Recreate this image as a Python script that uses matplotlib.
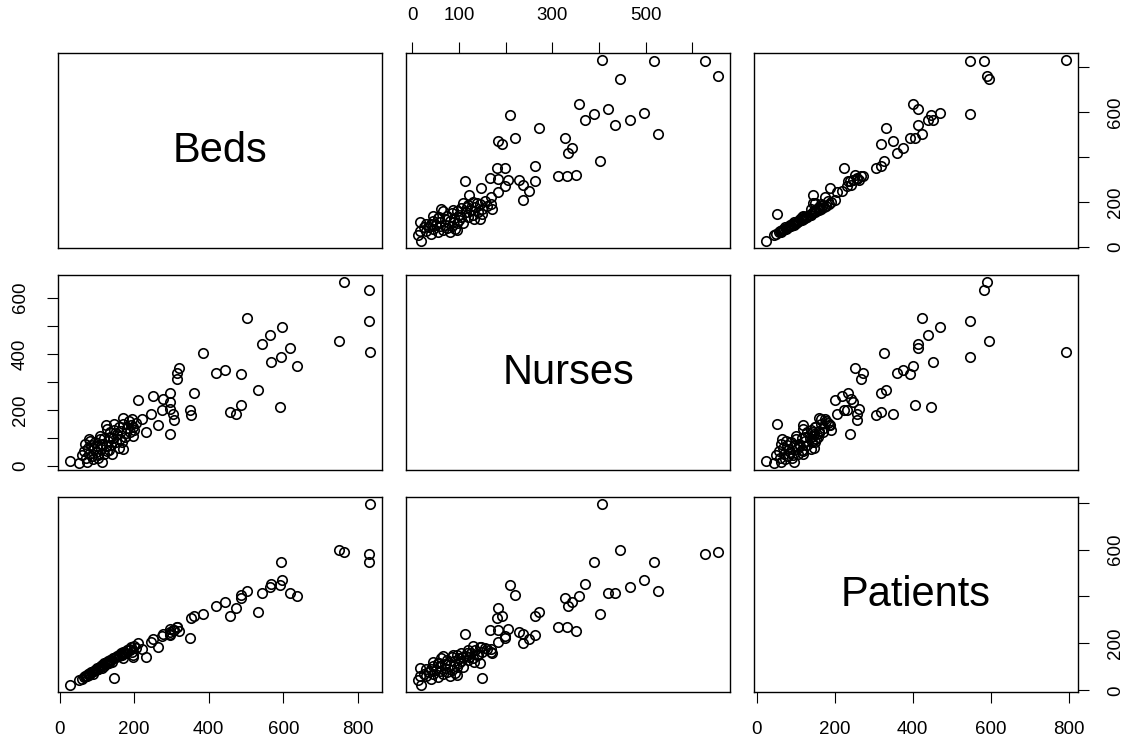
import numpy as np
import matplotlib
matplotlib.use('Agg')
import matplotlib.pyplot as plt

plt.rcParams['font.family'] = ['Liberation Sans', 'DejaVu Sans']

# valores (Beds, Nurses, Patients)
beds = [763, 828, 830, 832, 749, 503, 597, 564, 567, 543, 617, 593, 636, 590,
        384, 420, 443, 486, 531, 485, 474, 458, 360, 353, 350, 316, 315, 320,
        295, 297, 297, 304, 308, 296, 277, 250, 209, 274, 265, 233, 245, 222,
        193, 169, 147, 127, 197, 178, 197, 167, 171, 136, 109, 82, 132, 113,
        28, 53, 73, 60, 65, 70, 75, 80, 85, 88, 92, 95, 98, 100, 104, 108,
        110, 115, 118, 120, 124, 128, 130, 135, 138, 142, 145, 150, 155, 158,
        162, 165, 170, 175, 180, 185, 188, 192, 200, 205, 90, 68, 78, 102,
        125, 160, 140]
nurses = [655, 627, 518, 406, 445, 527, 496, 467, 370, 434, 419, 390, 358, 209,
          403, 333, 343, 327, 271, 219, 184, 193, 262, 181, 199, 312, 332, 350,
          262, 229, 205, 184, 166, 113, 238, 250, 237, 199, 147, 121, 184, 169,
          169, 171, 150, 133, 139, 118, 109, 86, 62, 104, 109, 91, 56, 16,
          19, 12, 16, 40, 55, 30, 65, 45, 75, 35, 60, 85, 50, 70, 40, 95,
          60, 80, 45, 100, 70, 55, 90, 120, 75, 100, 130, 85, 115, 140,
          95, 125, 150, 105, 135, 160, 120, 145, 130, 155, 25, 80, 95, 30,
          145, 65, 45]
patients = [591, 582, 548, 793, 596, 425, 470, 440, 452, 414, 414, 548, 400, 447,
            326, 359, 376, 394, 332, 407, 350, 319, 318, 307, 225, 268, 272, 252,
            235, 248, 262, 256, 258, 240, 241, 219, 201, 232, 187, 144, 205, 175,
            165, 160, 53, 120, 150, 160, 144, 150, 140, 125, 100, 75, 115, 95,
            24, 45, 62, 50, 58, 60, 68, 70, 78, 80, 84, 88, 86, 95, 92, 100,
            104, 108, 105, 115, 112, 118, 125, 130, 128, 138, 140, 142, 148, 150,
            152, 160, 165, 158, 172, 178, 170, 185, 190, 182, 72, 62, 66, 90,
            118, 148, 120]
nomes = ['Beds', 'Nurses', 'Patients']

dados = [np.array(beds), np.array(nurses), np.array(patients)]

def limites(v):
    r = v.max() - v.min()
    return v.min() - 0.04 * r, v.max() + 0.04 * r

fig = plt.figure(figsize=(11.28, 7.42), dpi=100)
W, H = 1128, 742
esquerda = [58, 406, 754]
baixo = [494, 272, 50]
larg, alt = 324, 195

ticks = {0: np.arange(0, 801, 200), 1: np.arange(0, 601, 100), 2: np.arange(0, 801, 200)}
rot_top = ['0', '100', '', '300', '', '500', '']
rot_esq = ['0', '', '200', '', '400', '', '600']
rot_pat = ['0', '200', '', '600', '']

for i in range(3):
    for j in range(3):
        ax = fig.add_axes([esquerda[j] / W, baixo[i] / H, larg / W, alt / H])
        for s in ax.spines.values():
            s.set_linewidth(1.0)
        ax.set_xticks([])
        ax.set_yticks([])
        ax.tick_params(direction='out', length=8, width=0.8, labelsize=13.5, pad=13)
        ax.set_xlim(limites(dados[j]))
        ax.set_ylim(limites(dados[i]))
        if i == j:
            ax.text(0.5, 0.5, nomes[i], transform=ax.transAxes, ha='center',
                    va='center', fontsize=30)
        else:
            ax.plot(dados[j], dados[i], 'o', mfc='none', mec='black', ms=6.8, mew=1.2)

        if i == 0 and j == 1:
            ax.xaxis.tick_top()
            ax.set_xticks(ticks[1])
            ax.set_xticklabels(rot_top)
        if i == 1 and j == 0:
            ax.set_yticks(ticks[1])
            ax.set_yticklabels(rot_esq, rotation=90, va='center')
        if i == 2 and j in (0, 2):
            ax.set_xticks(ticks[j])
        if j == 2 and i in (0, 2):
            ax.yaxis.tick_right()
            ax.set_yticks(ticks[2])
            ax.set_yticklabels(rot_pat, rotation=90, va='center')

fig.savefig('out.png', dpi=100)
